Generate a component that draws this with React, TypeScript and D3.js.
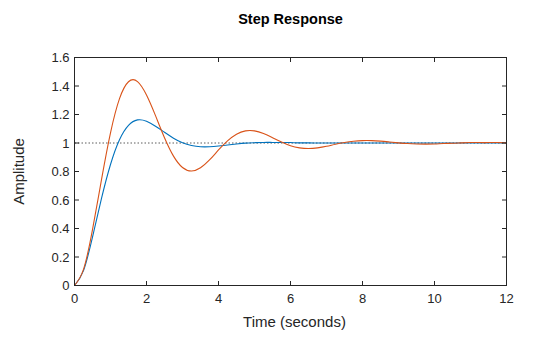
import React from "react";
import * as d3 from "d3";

const timeValues = [
  0, 0.25, 0.5, 0.75, 1, 1.25, 1.5, 1.75, 2, 2.25, 2.5, 2.75, 3, 3.25, 3.5, 3.75,
  4, 4.25, 4.5, 4.75, 5, 5.25, 5.5, 5.75, 6, 6.25, 6.5, 6.75, 7, 7.25, 7.5, 7.75,
  8, 8.25, 8.5, 8.75, 9, 9.25, 9.5, 9.75, 10, 10.25, 10.5, 10.75, 11, 11.25, 11.5,
  11.75, 12,
];

const blueSeries = [
  0, 0.104, 0.34, 0.611, 0.849, 1.023, 1.124, 1.162, 1.153, 1.118, 1.075, 1.034,
  1.002, 0.983, 0.974, 0.974, 0.979, 0.986, 0.993, 0.999, 1.002, 1.004, 1.004,
  1.004, 1.003, 1.001, 1.001, 1.0, 1.0, 0.9995, 1, 1, 1, 1, 1, 1, 1, 1, 1, 1, 1, 1,
  1, 1, 1, 1, 1, 1, 1,
];

const orangeSeries = [
  0, 0.113, 0.392, 0.743, 1.071, 1.311, 1.43, 1.431, 1.337, 1.192, 1.037, 0.908,
  0.828, 0.803, 0.826, 0.881, 0.951, 1.015, 1.062, 1.085, 1.085, 1.066, 1.037,
  1.007, 0.981, 0.966, 0.961, 0.966, 0.977, 0.991, 1.003, 1.012, 1.017, 1.017,
  1.013, 1.007, 1.001, 0.996, 0.993, 0.992, 0.993, 0.996, 0.998, 1.001, 1.003,
  1.003, 1.003, 1.003, 1.001,
];

const xTicks = [0, 2, 4, 6, 8, 10, 12];
const xTickLabels = ["0", "2", "4", "6", "8", "10", "12"];
const yTicks = [0, 0.2, 0.4, 0.6, 0.8, 1, 1.2, 1.4, 1.6];
const yTickLabels = ["0", "0.2", "0.4", "0.6", "0.8", "1", "1.2", "1.4", "1.6"];
const referenceLevel = [1];

const title = "Step Response";
const xLabel = "Time (seconds)";
const yLabel = "Amplitude";

export default function App() {
  const W = 560;
  const H = 337;
  const left = 74.5;
  const right = 506.5;
  const top = 57.5;
  const bottom = 285.5;
  const font = "'Liberation Sans', Arial, Helvetica, sans-serif";
  const axisColor = "#262626";

  const x = d3.scaleLinear().domain([0, 12]).range([left, right]);
  const y = d3.scaleLinear().domain([0, 1.6]).range([bottom, top]);

  const line = d3
    .line<number>()
    .x((_, i) => x(timeValues[i]))
    .y((d) => y(d))
    .curve(d3.curveNatural);

  const tickLen = 4.5;

  return (
    <svg
      width={W}
      height={H}
      style={{ position: "absolute", left: 0, top: 0, background: "#fff" }}
    >
      <rect x={0} y={0} width={W} height={H} fill="#fff" />
      <defs>
        <clipPath id="plotclip">
          <rect x={left} y={top} width={right - left} height={bottom - top} />
        </clipPath>
      </defs>
      {referenceLevel.map((r) => (
        <line
          key={r}
          x1={x(0)}
          x2={x(12)}
          y1={y(r)}
          y2={y(r)}
          stroke="#333"
          strokeWidth={0.8}
          strokeDasharray="1.5 2"
        />
      ))}
      <g clipPath="url(#plotclip)">
        <path d={line(blueSeries) || ""} fill="none" stroke="#0072BD" strokeWidth={1.1} />
        <path d={line(orangeSeries) || ""} fill="none" stroke="#D95319" strokeWidth={1.1} />
      </g>
      <rect
        x={left}
        y={top}
        width={right - left}
        height={bottom - top}
        fill="none"
        stroke={axisColor}
        strokeWidth={1}
      />
      {xTicks.map((t, i) => (
        <g key={"x" + t}>
          <line x1={x(t)} x2={x(t)} y1={bottom} y2={bottom - tickLen} stroke={axisColor} />
          <line x1={x(t)} x2={x(t)} y1={top} y2={top + tickLen} stroke={axisColor} />
          <text
            x={x(t)}
            y={bottom + 17}
            textAnchor="middle"
            fontFamily={font}
            fontSize={13}
            fill="#262626"
          >
            {xTickLabels[i]}
          </text>
        </g>
      ))}
      {yTicks.map((t, i) => (
        <g key={"y" + t}>
          <line x1={left} x2={left + tickLen} y1={y(t)} y2={y(t)} stroke={axisColor} />
          <line x1={right} x2={right - tickLen} y1={y(t)} y2={y(t)} stroke={axisColor} />
          <text
            x={left - 5}
            y={y(t) + 4.5}
            textAnchor="end"
            fontFamily={font}
            fontSize={13}
            fill="#262626"
          >
            {yTickLabels[i]}
          </text>
        </g>
      ))}
      <text
        x={(left + right) / 2}
        y={24}
        textAnchor="middle"
        fontFamily={font}
        fontSize={14.5}
        fontWeight="bold"
        fill="#000"
      >
        {title}
      </text>
      <text
        x={(left + right) / 2 + 4}
        y={327}
        textAnchor="middle"
        fontFamily={font}
        fontSize={15}
        fill="#262626"
      >
        {xLabel}
      </text>
      <text
        transform={`translate(24, ${(top + bottom) / 2}) rotate(-90)`}
        textAnchor="middle"
        fontFamily={font}
        fontSize={15}
        fill="#262626"
      >
        {yLabel}
      </text>
    </svg>
  );
}
